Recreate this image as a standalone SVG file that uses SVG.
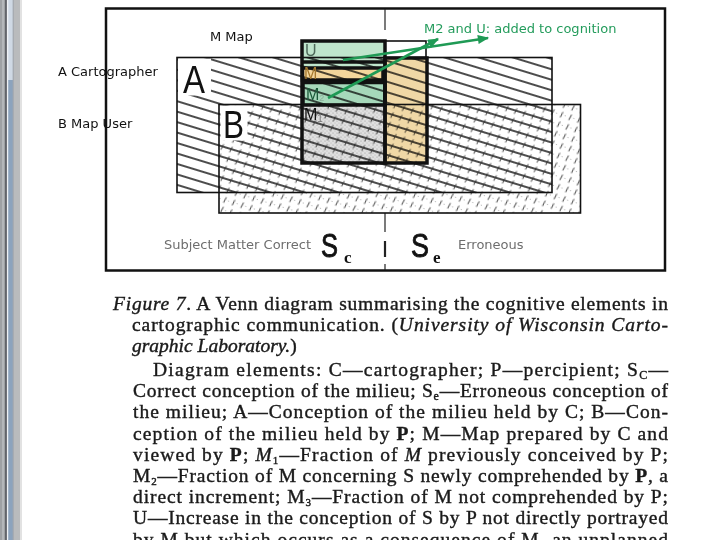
<svg xmlns="http://www.w3.org/2000/svg" width="720" height="540" viewBox="0 0 720 540">
<style>
.lbl{font-family:"DejaVu Sans","Noto Sans",sans-serif;font-size:13px;fill:#111}
.gray{fill:#6e6e6e}
.grn{fill:#249c5c}
.big{font-family:"Liberation Sans",Arial,sans-serif;fill:#111}
.ess{font-family:"Liberation Sans",Arial,sans-serif;fill:#111;stroke:#111;stroke-width:0.9;font-size:34px}
.mlab{font-family:"Liberation Sans",Arial,sans-serif;font-size:16px}
.cap{font-family:"Liberation Serif","Times New Roman",serif;font-size:19.5px;fill:#1a1a1a;stroke:#1a1a1a;stroke-width:0.4}
.it{font-style:italic}
.bd{font-weight:bold}
.thick{fill:none;stroke:#111;stroke-width:3.5}
.thin{fill:none;stroke:#111;stroke-width:1.6}
.conn{stroke:#1f9a55;stroke-width:2.6;fill:none;marker-end:url(#arr)}
.mul{mix-blend-mode:multiply}
.sub{font-family:"Liberation Serif",serif;font-weight:bold;font-size:17px;fill:#111}
</style>
<defs>
<pattern id="hatchA" patternUnits="userSpaceOnUse" width="40" height="10" patternTransform="rotate(17)">
<line x1="0" y1="5" x2="40" y2="5" stroke="#111" stroke-width="1.3"/>
</pattern>
<pattern id="hatchB" patternUnits="userSpaceOnUse" width="9" height="10" patternTransform="rotate(17)">
<path d="M3 8.5 L4.2 2.5" stroke="#333" stroke-width="0.9"/>
<circle cx="7.2" cy="5.5" r="0.45" fill="#555"/>
</pattern>
<pattern id="dots" patternUnits="userSpaceOnUse" width="4" height="4">
<circle cx="1" cy="1" r="0.6" fill="#666"/>
<circle cx="3" cy="3" r="0.5" fill="#888"/>
</pattern>
<marker id="arr" viewBox="0 0 10 8" refX="9" refY="4" markerWidth="12" markerHeight="9" orient="auto" markerUnits="userSpaceOnUse">
<path d="M0 0 L10 4 L0 8 z" fill="#1f9a55"/>
</marker>
</defs>
<rect x="0" y="0" width="720" height="540" fill="#ffffff"/>
<g id="window-edge">
<rect x="0" y="0" width="6" height="540" fill="#9ea1a4"/>
<rect x="2" y="0" width="2" height="540" fill="#b4b7ba"/>
<rect x="5.5" y="0" width="1.3" height="540" fill="#262a31"/>
<rect x="6.8" y="0" width="1.4" height="540" fill="#eef1f4"/>
<rect x="8.2" y="0" width="4.6" height="80" fill="#cfd9e5"/>
<rect x="8.2" y="80" width="4.6" height="460" fill="#8ca3bd"/>
<rect x="12.8" y="0" width="0.8" height="540" fill="#5a6470"/>
<rect x="13.6" y="0" width="6.4" height="540" fill="#b9bbbd"/>
<rect x="20" y="0" width="2" height="540" fill="#e2e2e2"/>
</g>
<g id="frame">
<rect x="106" y="8.5" width="559" height="262" fill="none" stroke="#111" stroke-width="2.5"/>
<g stroke="#222" stroke-width="1.2">
<line x1="385" y1="9" x2="385" y2="30"/>
<line x1="385" y1="213" x2="385" y2="232"/>
<line x1="385" y1="241" x2="385" y2="257" stroke-width="2.2"/>
<line x1="385" y1="264" x2="385" y2="270"/>
</g>
</g>
<g id="regionA">
<rect x="177" y="57.5" width="375" height="135" fill="url(#hatchA)"/>
</g>
<g id="regionB">
<rect x="219" y="104.5" width="361.5" height="108.5" fill="url(#hatchB)"/>
</g>
<rect x="178" y="58.5" width="33" height="37" fill="#fff"/>
<rect x="220.5" y="105.5" width="27" height="35" fill="#fff"/>
<g id="mapM">
<rect x="302" y="41" width="83" height="26" fill="#bfe5cc" class="mul"/>
<rect x="302.5" y="68" width="80.5" height="12" fill="#f4d69c" class="mul"/>
<rect x="303" y="82.5" width="82" height="22.5" fill="#a6d8ba" class="mul"/>
<rect x="302" y="105" width="83" height="58" fill="#c4c4c4" class="mul" opacity="0.55"/>
<rect x="302" y="105" width="83" height="58" fill="url(#dots)" opacity="0.6"/>
<rect x="385" y="58" width="42" height="105" fill="#f0d8a6" class="mul"/>
<rect x="385" y="41" width="41" height="17" fill="#fff"/>
</g>
<g id="outlines">
<rect x="177" y="57.5" width="375" height="135" class="thin"/>
<rect x="219" y="104.5" width="361.5" height="108.5" class="thin"/>
<rect x="385" y="41" width="41" height="17" class="thin"/>
<rect x="302" y="41" width="83" height="122" class="thick"/>
<line x1="302" y1="62" x2="385" y2="62" stroke="#111" stroke-width="3.5"/>
<rect x="302.5" y="68" width="80.5" height="12" class="thick" stroke-width="3"/>
<rect x="303" y="82.5" width="82" height="22.5" class="thick"/>
<rect x="385" y="58" width="42" height="105" class="thick"/>
</g>
<g id="region-letters">
<text class="big" x="183" y="93" font-size="39" textLength="22" lengthAdjust="spacingAndGlyphs">A</text>
<text class="big" x="223" y="138" font-size="39" textLength="21" lengthAdjust="spacingAndGlyphs">B</text>
</g>
<g id="m-labels">
<text class="mlab" x="305" y="56" fill="#4e6a5a" font-size="15">U</text>
<text class="mlab" x="304" y="79" fill="#a5782e">M</text>
<text class="mlab" x="306" y="100" fill="#1c5a3a">M<tspan font-size="9" dy="1" fill="#8cae9a">2</tspan></text>
<text class="mlab" x="304" y="120" fill="#111">M<tspan font-size="10" dy="2" fill="#777">1</tspan></text>
</g>
<g id="connectors">
<line class="conn" x1="328" y1="98" x2="438" y2="39"/>
<line class="conn" x1="343" y1="60" x2="488" y2="38"/>
</g>
<g id="labels">
<text class="lbl" x="210" y="41">M Map</text>
<text class="lbl grn" x="424" y="32.5">M2 and U: added to cognition</text>
<text class="lbl" x="58" y="76">A Cartographer</text>
<text class="lbl" x="58" y="128">B Map User</text>
<text class="lbl gray" x="164" y="249">Subject Matter Correct</text>
<text class="lbl gray" x="458" y="249">Erroneous</text>
</g>
<g id="s-labels">
<text class="ess" x="321" y="257" textLength="17" lengthAdjust="spacingAndGlyphs">S</text>
<text class="sub" x="344" y="263">c</text>
<text class="ess" x="411" y="257" textLength="18" lengthAdjust="spacingAndGlyphs">S</text>
<text class="sub" x="433" y="263">e</text>
</g>
<g id="caption">
<text class="cap" x="113" y="310" textLength="555" lengthAdjust="spacing"><tspan class="it">Figure 7</tspan>. A Venn diagram summarising the cognitive elements in</text>
<text class="cap" x="132" y="331" textLength="536" lengthAdjust="spacing">cartographic communication. (<tspan class="it">University of Wisconsin Carto-</tspan></text>
<text class="cap" x="132" y="352"><tspan class="it">graphic Laboratory.</tspan>)</text>
<text class="cap" x="153" y="376" textLength="515" lengthAdjust="spacing">Diagram elements: C—cartographer; P—percipient; S<tspan font-size="12" dy="3">C</tspan><tspan dy="-3">—</tspan></text>
<text class="cap" x="133" y="397" textLength="535" lengthAdjust="spacing">Correct conception of the milieu; S<tspan font-size="12" dy="3">e</tspan><tspan dy="-3">—Erroneous conception of</tspan></text>
<text class="cap" x="133" y="418" textLength="535" lengthAdjust="spacing">the milieu; A—Conception of the milieu held by C; B—Con-</text>
<text class="cap" x="133" y="440" textLength="535" lengthAdjust="spacing">ception of the milieu held by <tspan class="bd">P</tspan>; M—Map prepared by C and</text>
<text class="cap" x="133" y="461" textLength="535" lengthAdjust="spacing">viewed by <tspan class="bd">P</tspan>; <tspan class="it">M</tspan><tspan font-size="11" dy="3">1</tspan><tspan dy="-3">—Fraction of </tspan><tspan class="it">M</tspan> previously conceived by P;</text>
<text class="cap" x="133" y="482" textLength="535" lengthAdjust="spacing">M<tspan font-size="11" dy="3">2</tspan><tspan dy="-3">—Fraction of M concerning S newly comprehended by </tspan><tspan class="bd">P</tspan>, a</text>
<text class="cap" x="133" y="503" textLength="535" lengthAdjust="spacing">direct increment; M<tspan font-size="11" dy="3">3</tspan><tspan dy="-3">—Fraction of M not comprehended by P;</tspan></text>
<text class="cap" x="133" y="524" textLength="535" lengthAdjust="spacing">U—Increase in the conception of S by P not directly portrayed</text>
<text class="cap" x="133" y="546" textLength="535" lengthAdjust="spacing">by M but which occurs as a consequence of M<tspan font-size="11" dy="3">2</tspan><tspan dy="-3"> an unplanned</tspan></text>
</g>
</svg>
